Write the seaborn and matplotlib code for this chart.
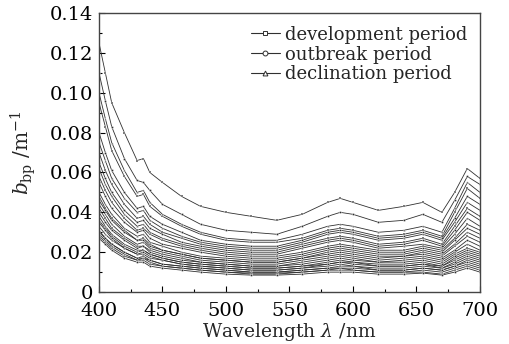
import matplotlib
matplotlib.use("Agg")
import matplotlib.pyplot as plt
import numpy as np
import pandas as pd
import seaborn as sns
from matplotlib.ticker import MultipleLocator, FuncFormatter
from matplotlib.lines import Line2D

wavelength = [400, 405, 410, 420, 430, 435, 440, 450, 465, 480, 500, 520,
              540, 560, 580, 590, 600, 620, 640, 655, 670, 680, 690, 700]

s01 = [.125, .110, .095, .080, .066, .067, .060, .055, .048, .043, .040, .038, .036, .039, .045, .047, .045, .041, .043, .045, .040, .050, .062, .057]
s02 = [.110, .096, .083, .067, .056, .055, .051, .044, .039, .034, .031, .030, .029, .033, .038, .040, .039, .035, .036, .039, .035, .046, .058, .054]
s03 = [.100, .087, .075, .061, .050, .051, .045, .039, .034, .030, .027, .026, .026, .029, .033, .034, .033, .030, .031, .033, .030, .042, .055, .050]
s04 = [.095, .083, .071, .058, .048, .049, .043, .038, .033, .029, .026, .025, .025, .027, .031, .032, .031, .028, .029, .031, .028, .040, .052, .047]
s05 = [.080, .070, .061, .050, .042, .043, .038, .034, .030, .026, .024, .023, .023, .026, .030, .031, .030, .027, .028, .030, .027, .037, .048, .044]
s06 = [.075, .066, .057, .047, .040, .041, .036, .032, .028, .025, .023, .022, .022, .025, .029, .030, .029, .026, .027, .029, .026, .035, .045, .041]
s07 = [.070, .061, .054, .044, .037, .038, .034, .030, .027, .024, .022, .021, .021, .024, .027, .028, .027, .024, .025, .027, .024, .033, .042, .038]
s08 = [.065, .057, .050, .041, .035, .036, .032, .029, .025, .023, .021, .020, .020, .023, .026, .027, .026, .023, .024, .026, .023, .031, .040, .036]
s09 = [.062, .054, .048, .039, .033, .034, .030, .027, .024, .022, .020, .019, .019, .022, .025, .026, .025, .022, .023, .024, .022, .029, .037, .033]
s10 = [.058, .051, .045, .037, .031, .032, .029, .026, .023, .021, .019, .018, .018, .020, .023, .024, .023, .021, .021, .023, .021, .027, .034, .031]
s11 = [.055, .048, .042, .035, .030, .031, .027, .024, .022, .020, .018, .017, .017, .019, .022, .023, .022, .020, .020, .022, .020, .026, .032, .029]
s12 = [.050, .044, .039, .032, .028, .029, .025, .023, .020, .018, .017, .016, .016, .018, .021, .022, .021, .019, .019, .021, .019, .024, .030, .027]
s13 = [.048, .042, .037, .031, .026, .027, .024, .021, .019, .017, .016, .015, .015, .017, .020, .021, .020, .018, .018, .020, .018, .023, .028, .025]
s14 = [.046, .041, .036, .030, .026, .026, .023, .021, .019, .017, .016, .015, .015, .017, .019, .020, .019, .017, .018, .019, .017, .021, .026, .023]
s15 = [.044, .039, .034, .028, .024, .025, .022, .020, .018, .016, .015, .014, .014, .016, .018, .019, .018, .016, .017, .018, .016, .020, .024, .021]
s16 = [.042, .037, .032, .027, .023, .023, .021, .019, .017, .015, .014, .013, .013, .015, .017, .018, .017, .015, .016, .017, .015, .019, .022, .020]
s17 = [.040, .035, .031, .026, .022, .023, .020, .018, .016, .015, .014, .013, .013, .014, .016, .017, .016, .015, .015, .016, .014, .018, .021, .019]
s18 = [.038, .033, .029, .024, .021, .021, .019, .017, .015, .014, .013, .012, .012, .013, .015, .016, .015, .014, .014, .015, .013, .017, .020, .018]
s19 = [.036, .032, .028, .023, .020, .021, .019, .017, .015, .014, .013, .012, .012, .013, .014, .015, .015, .013, .013, .014, .013, .016, .019, .017]
s20 = [.035, .031, .027, .022, .019, .020, .018, .016, .014, .013, .012, .011, .011, .012, .014, .015, .014, .013, .013, .014, .012, .015, .018, .016]
s21 = [.033, .029, .026, .022, .019, .019, .017, .016, .014, .013, .012, .011, .011, .012, .013, .014, .013, .012, .012, .013, .012, .014, .017, .015]
s22 = [.031, .027, .024, .020, .017, .018, .016, .014, .013, .012, .011, .010, .010, .011, .012, .013, .013, .011, .011, .012, .011, .013, .016, .014]
s23 = [.030, .027, .024, .020, .017, .017, .016, .014, .013, .012, .011, .010, .010, .011, .012, .012, .012, .011, .011, .012, .011, .013, .015, .013]
s24 = [.029, .026, .023, .019, .016, .017, .015, .013, .012, .011, .010, .0095, .0095, .010, .011, .012, .011, .010, .010, .011, .010, .012, .014, .012]
s25 = [.028, .025, .022, .018, .016, .016, .014, .013, .012, .011, .010, .009, .009, .010, .011, .011, .011, .010, .010, .010, .009, .011, .013, .011]
s26 = [.027, .024, .021, .017, .015, .015, .013, .012, .011, .010, .009, .0085, .0085, .009, .010, .010, .010, .009, .009, .0095, .0085, .010, .012, .010]

spectra = [s01, s02, s03, s04, s05, s06, s07, s08, s09, s10, s11, s12, s13,
           s14, s15, s16, s17, s18, s19, s20, s21, s22, s23, s24, s25, s26]
periods = ["development period", "outbreak period", "declination period"]
period_markers = ["s", "o", "^"]
curve_period = [0, 1, 2, 0, 1, 2, 0, 1, 2, 0, 1, 2, 0, 1, 2, 0, 1, 2, 0, 1, 2, 0, 1, 2, 0, 1]

rows = []
for i, s in enumerate(spectra):
    for w, v in zip(wavelength, s):
        rows.append({"curve": i, "period": periods[curve_period[i]], "wavelength": w, "bbp": v})
df = pd.DataFrame(rows)

sns.set_theme(style="ticks")
plt.rcParams["font.family"] = ["DejaVu Serif"]
plt.rcParams["mathtext.fontset"] = "dejavuserif"

line_col = "#303030"
fig = plt.figure(figsize=(5.09, 3.44), dpi=100)
ax = fig.add_axes([0.1945, 0.151, 0.943 - 0.1945, 0.962 - 0.151])

sns.lineplot(data=df, x="wavelength", y="bbp", units="curve", estimator=None,
             hue="period", style="period", hue_order=periods, style_order=periods,
             palette=[line_col] * 3, markers=period_markers, dashes=False,
             linewidth=0.6, markersize=1.6, markeredgewidth=0.3,
             ax=ax, legend=False)

ax.set_xlim(400, 700)
ax.set_ylim(0, 0.14)
ax.xaxis.set_major_locator(MultipleLocator(50))
ax.xaxis.set_minor_locator(MultipleLocator(25))
ax.yaxis.set_major_locator(MultipleLocator(0.02))
ax.yaxis.set_minor_locator(MultipleLocator(0.01))
ax.yaxis.set_major_formatter(FuncFormatter(lambda v, p: "0" if abs(v) < 1e-9 else f"{v:.2f}"))
ax.tick_params(which="both", direction="in", labelsize=14, colors="black")
ax.tick_params(axis="x", which="major", pad=7)
ax.tick_params(axis="y", which="major", pad=4)
ax.tick_params(which="major", length=4, width=0.8)
ax.tick_params(which="minor", length=2.5, width=0.8)
for sp in ax.spines.values():
    sp.set_color("#444444")
    sp.set_linewidth(1.0)

ax.set_xlabel(r"Wavelength $\lambda$ /nm", fontsize=13.5, labelpad=1)
ax.set_ylabel(r"$b_{\mathrm{bp}}$ /m$^{-1}$", fontsize=14.5, labelpad=9)

handles = [Line2D([], [], color=line_col, linewidth=0.8, marker=m, markersize=3.5,
                  markerfacecolor="white", markeredgecolor=line_col,
                  markeredgewidth=0.7)
           for m in period_markers]
leg = ax.legend(handles, periods, loc="upper right", frameon=False, fontsize=13,
                handlelength=1.6, handletextpad=0.3, labelspacing=0.1,
                borderaxespad=0.3)

fig.savefig("out.png", dpi=100)
